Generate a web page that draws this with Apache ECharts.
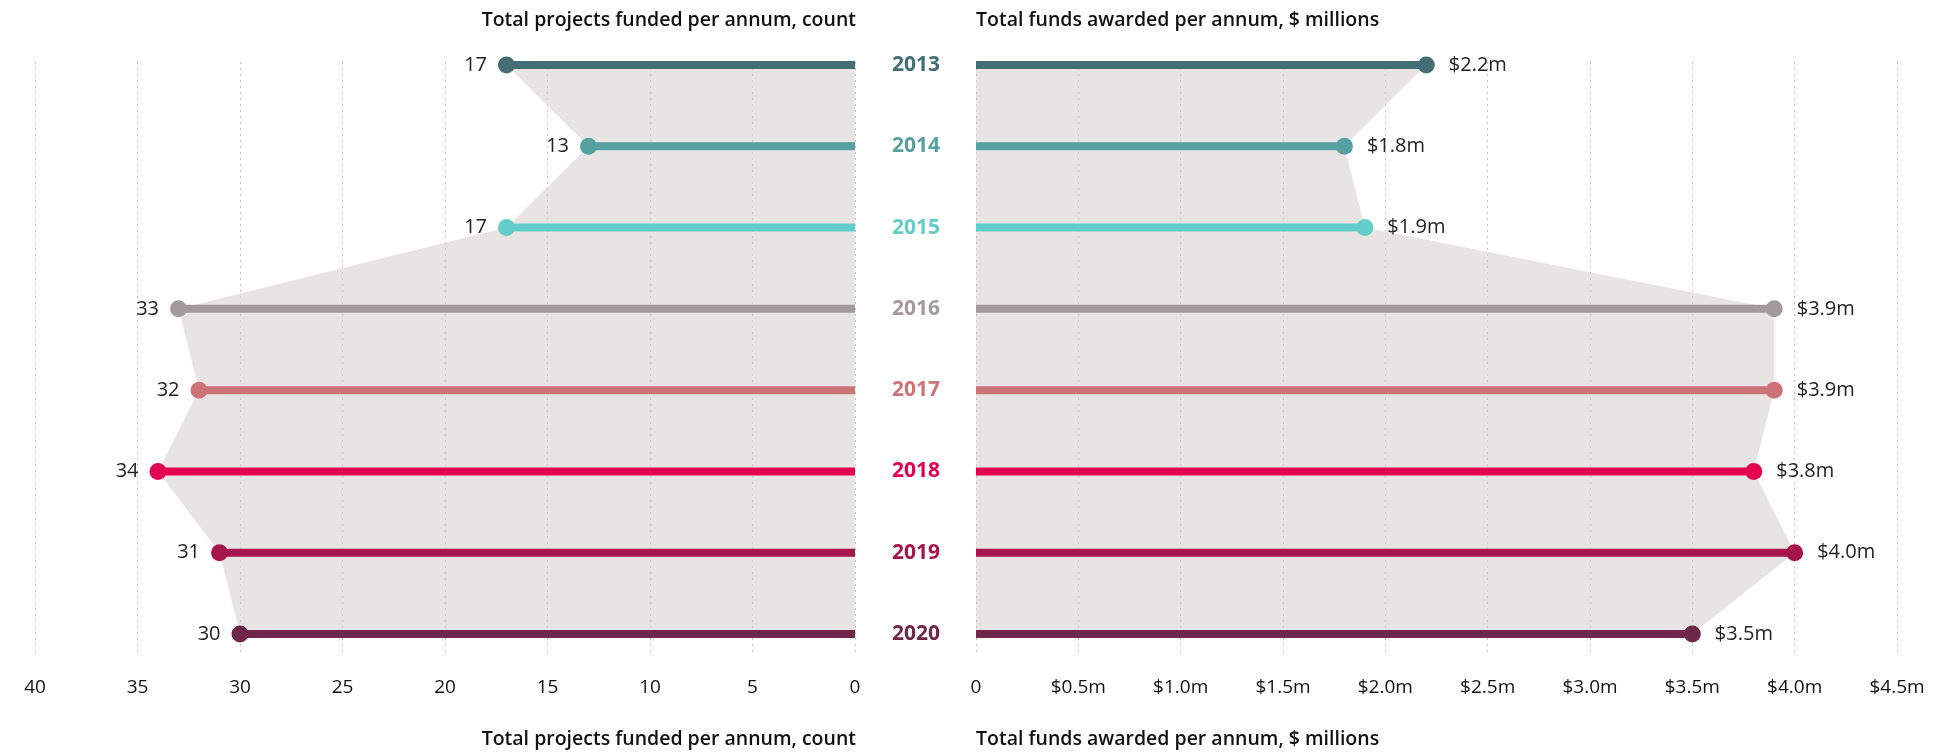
<!DOCTYPE html>
<html>
<head>
<meta charset="utf-8">
<script src="https://cdn.jsdelivr.net/npm/echarts@6/dist/echarts.min.js"></script>
<style>
html,body{margin:0;padding:0;background:#fff;}
#chart{width:1960px;height:754px;}
</style>
</head>
<body>
<div id="chart"></div>
<script>
var years = ['2013','2014','2015','2016','2017','2018','2019','2020'];
var projects = [17, 13, 17, 33, 32, 34, 31, 30];
var funds = [2.2, 1.8, 1.9, 3.9, 3.9, 3.8, 4.0, 3.5];
var yearColors = ['#436e73','#57a0a2','#63cdc9','#a39b9a','#cc7378','#e2004f','#a5154a','#6e2749'];
var leftTitle = 'Total projects funded per annum, count';
var rightTitle = 'Total funds awarded per annum, $ millions';

var chart = echarts.init(document.getElementById('chart'), null, {renderer:'canvas'});

var font = '"Open Sans", sans-serif';
var L = 35, LW = 820, R = 976, RW = 921;
var TOP = 65, H = 569;

var series = [];
// shaded areas
series.push({
  type:'line', xAxisIndex:0, yAxisIndex:0, data: projects, symbol:'none', silent:true,
  lineStyle:{width:0, opacity:0}, areaStyle:{color:'rgba(214,205,205,0.55)', opacity:1}, z:1
});
series.push({
  type:'line', xAxisIndex:1, yAxisIndex:1, data: funds, symbol:'none', silent:true,
  lineStyle:{width:0, opacity:0}, areaStyle:{color:'rgba(214,205,205,0.55)', opacity:1}, z:1
});
years.forEach(function(yr, i){
  var c = yearColors[i];
  series.push({
    type:'line', xAxisIndex:0, yAxisIndex:0, z:3,
    lineStyle:{width:8, color:c}, itemStyle:{color:c, opacity:1},
    symbolSize:17,
    label:{show:false},
    data:[
      {value:[0, yr], symbol:'none'},
      {value:[projects[i], yr], symbol:'circle',
       label:{show:true, position:'left', distance:11, formatter:String(projects[i]),
              color:'#222', fontFamily:font, fontSize:20}}
    ]
  });
  series.push({
    type:'line', xAxisIndex:1, yAxisIndex:1, z:3,
    lineStyle:{width:8, color:c}, itemStyle:{color:c, opacity:1},
    symbolSize:17,
    label:{show:false},
    data:[
      {value:[0, yr], symbol:'none'},
      {value:[funds[i], yr], symbol:'circle',
       label:{show:true, position:'right', distance:14, formatter:'$' + funds[i].toFixed(1) + 'm',
              color:'#222', fontFamily:font, fontSize:20}}
    ]
  });
});

var option = {
  animation:false,
  backgroundColor:'#fff',
  grid:[
    {left:L, width:LW, top:TOP, height:H},
    {left:R, width:RW, top:TOP, height:H},
    {left:L, width:LW, top:62, height:594},
    {left:R, width:RW, top:62, height:594}
  ],
  xAxis:[
    {type:'value', gridIndex:0, min:0, max:40, inverse:true, show:false},
    {type:'value', gridIndex:1, min:0, max:4.5, show:false},
    {type:'value', gridIndex:2, min:0, max:40, interval:5, inverse:true,
     axisLine:{show:false}, axisTick:{show:false},
     splitLine:{show:true, lineStyle:{color:'#c4c4c4', type:[2,4], width:1}},
     axisLabel:{margin:22, color:'#111', fontFamily:font, fontWeight:500, fontSize:19}},
    {type:'value', gridIndex:3, min:0, max:4.5, interval:0.5,
     axisLine:{show:false}, axisTick:{show:false},
     splitLine:{show:true, lineStyle:{color:'#c4c4c4', type:[2,4], width:1}},
     axisLabel:{margin:22, color:'#111', fontFamily:font, fontWeight:500, fontSize:19,
       formatter:function(v){ return v === 0 ? '0' : '$' + v.toFixed(1) + 'm'; }}}
  ],
  yAxis:[
    {type:'category', gridIndex:0, data:years, inverse:true, boundaryGap:false, show:false},
    {type:'category', gridIndex:1, data:years, inverse:true, boundaryGap:false,
     axisLine:{show:false}, axisTick:{show:false}, splitLine:{show:false},
     axisLabel:{show:true, margin:60, align:'center', fontFamily:font, fontWeight:'bold', fontSize:21,
       color:function(v, idx){ return yearColors[years.indexOf(v)]; }}},
    {type:'value', gridIndex:2, min:0, max:1, show:false},
    {type:'value', gridIndex:3, min:0, max:1, show:false}
  ],
  graphic:[
    {type:'text', right:1960-856, top:10, style:{text:leftTitle, font:'600 19.5px ' + font, fill:'#111', textAlign:'right'}},
    {type:'text', left:R, top:10, style:{text:rightTitle, font:'600 19.5px ' + font, fill:'#111'}},
    {type:'text', right:1960-856, top:729, style:{text:leftTitle, font:'600 19.5px ' + font, fill:'#111', textAlign:'right'}},
    {type:'text', left:R, top:729, style:{text:rightTitle, font:'600 19.5px ' + font, fill:'#111'}}
  ],
  series:series
};
chart.setOption(option);
</script>
</body>
</html>
